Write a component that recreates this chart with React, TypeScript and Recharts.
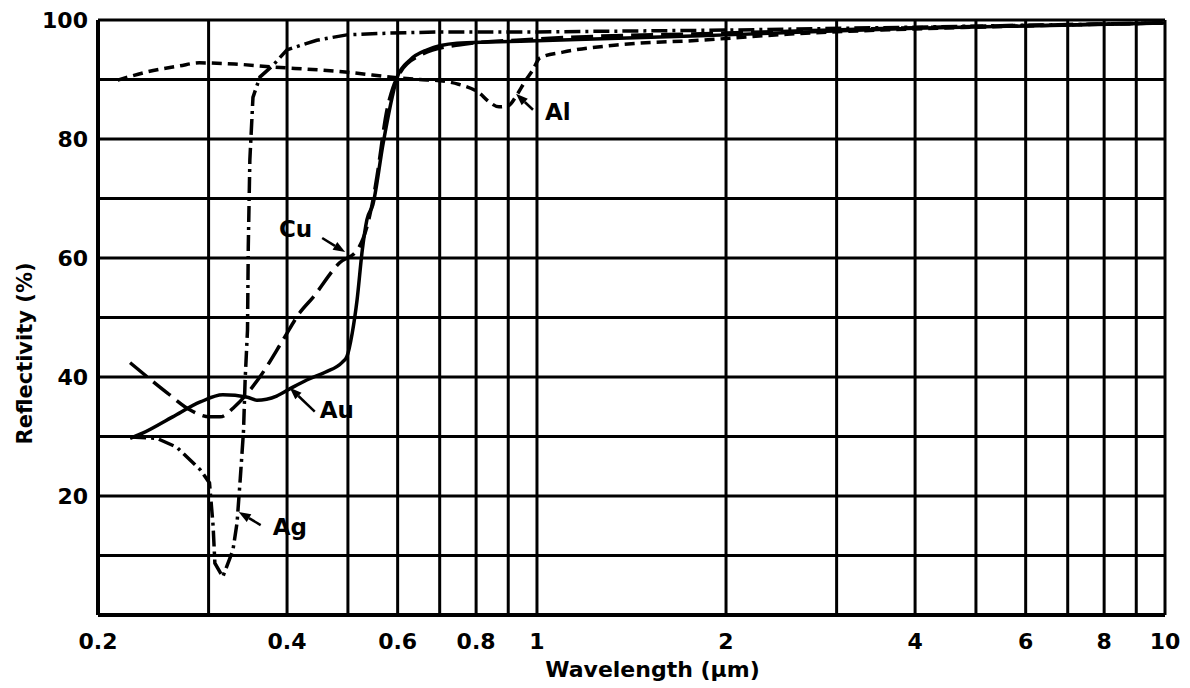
import React from "react";
import {
  LineChart,
  Line,
  XAxis,
  YAxis,
  CartesianGrid,
  Label,
  ReferenceDot,
} from "recharts";

// wavelength in um, reflectivity in %
const alWavelength = [0.215, 0.24, 0.27, 0.29, 0.33, 0.38, 0.45, 0.5, 0.6, 0.65, 0.7, 0.75, 0.81, 0.84, 0.87, 0.9, 0.93, 0.96, 0.985, 1.01, 1.1, 1.34, 1.82, 2.5, 4, 6, 10];
const alReflectivity = [89.9, 91.3, 92.3, 92.8, 92.6, 92.1, 91.6, 91.2, 90.3, 90.0, 89.8, 89.2, 87.7, 86.2, 85.4, 85.6, 87.5, 89.9, 91.6, 93.6, 94.6, 95.8, 96.6, 97.6, 98.5, 99.0, 99.5];

const agWavelength = [0.225, 0.248, 0.267, 0.291, 0.301, 0.305, 0.307, 0.316, 0.328, 0.333, 0.337, 0.341, 0.343, 0.346, 0.347, 0.349, 0.353, 0.362, 0.38, 0.4, 0.446, 0.498, 0.583, 0.7, 1, 2, 4, 10];
const agReflectivity = [29.9, 29.7, 28.2, 24.4, 22.2, 15, 8.7, 6.4, 10.9, 15.5, 23, 31, 39.5, 47.9, 62, 76.5, 87, 90.4, 92.4, 95, 96.6, 97.5, 97.8, 98, 98, 98.3, 98.8, 99.5];

const auWavelength = [0.225, 0.236, 0.263, 0.291, 0.316, 0.346, 0.358, 0.385, 0.404, 0.43, 0.46, 0.49, 0.498, 0.508, 0.517, 0.527, 0.536, 0.548, 0.569, 0.588, 0.599, 0.628, 0.669, 0.746, 0.842, 1, 2, 4, 10];
const auReflectivity = [29.7, 30.6, 33.3, 35.8, 37, 36.6, 36.1, 36.8, 38, 39.5, 40.8, 42.5, 43.4, 47.4, 52.9, 61.3, 66.4, 69, 79.3, 87, 90.4, 93.3, 95, 96.1, 96.3, 96.5, 97.5, 98.6, 99.5];

const cuWavelength = [0.225, 0.258, 0.28, 0.301, 0.313, 0.33, 0.346, 0.362, 0.394, 0.419, 0.44, 0.485, 0.517, 0.536, 0.548, 0.556, 0.577, 0.59, 0.605, 0.65, 0.75, 1, 2, 4, 10];
const cuReflectivity = [42.4, 37.3, 34.5, 33.3, 33.3, 35, 37.3, 40, 46.2, 50.8, 53.4, 59.2, 61.3, 65.2, 69.7, 73.6, 84.9, 88.7, 91.1, 94, 95.8, 96.8, 97.8, 98.7, 99.5];

const xTicks = [0.2, 0.3, 0.4, 0.5, 0.6, 0.7, 0.8, 0.9, 1, 2, 3, 4, 5, 6, 7, 8, 9, 10];
const xTickLabels = [0.2, 0.4, 0.6, 0.8, 1, 2, 4, 6, 8, 10];
const yTicks = [0, 10, 20, 30, 40, 50, 60, 70, 80, 90, 100];
const yTickLabels = [20, 40, 60, 80, 100];

// label name, point on curve it points to
const labelNames = ["Al", "Cu", "Au", "Ag"];
const labelWavelength = [0.926, 0.495, 0.404, 0.335];
const labelReflectivity = [87.6, 61.0, 38.2, 17.3];

const toPoints = (xs: number[], ys: number[]) =>
  xs.map((x, i) => ({ x, y: ys[i] }));

const FONT = "'DejaVu Sans', sans-serif";

// arrow offsets (px) from the tip: line end, text anchor
const labelLayout: Record<string, any> = {
  Al: { lx: 17, ly: 16, tx: 29, ty: 26, anchor: "start" },
  Cu: { lx: -23, ly: -14, tx: -33, ty: -15, anchor: "end" },
  Au: { lx: 25, ly: 24, tx: 30, ty: 30, anchor: "start" },
  Ag: { lx: 22, ly: 13, tx: 34, ty: 23, anchor: "start" },
};

const Annotation = (props: any) => {
  const { cx, cy, name } = props;
  const l = labelLayout[name];
  const ex = cx + l.lx;
  const ey = cy + l.ly;
  const len = Math.hypot(l.lx, l.ly);
  const ux = -l.lx / len;
  const uy = -l.ly / len;
  const hl = 12;
  const hw = 4.5;
  const bx = cx - ux * hl;
  const by = cy - uy * hl;
  const head = `${cx},${cy} ${bx - uy * hw},${by + ux * hw} ${bx + uy * hw},${by - ux * hw}`;
  return (
    <g>
      <line x1={ex} y1={ey} x2={bx} y2={by} stroke="#000" strokeWidth={2.5} />
      <polygon points={head} fill="#000" />
      <text
        x={cx + l.tx}
        y={cy + l.ty}
        textAnchor={l.anchor}
        fontFamily={FONT}
        fontWeight="bold"
        fontSize={23}
        fill="#000"
      >
        {name}
      </text>
    </g>
  );
};

export default function App() {
  const tickStyle = {
    fontSize: 22,
    fontWeight: "bold",
    fontFamily: FONT,
    fill: "#000",
  };
  return (
    <div style={{ position: "absolute", left: 0, top: 0, background: "#fff" }}>
      <LineChart
        width={1190}
        height={688}
        margin={{ top: 20, right: 25, left: 0, bottom: 0 }}
      >
        <CartesianGrid stroke="#000" strokeWidth={3} />
        <XAxis
          dataKey="x"
          type="number"
          scale="log"
          domain={[0.2, 10]}
          allowDataOverflow
          ticks={xTicks}
          tickFormatter={(v: number) => (xTickLabels.includes(v) ? String(v) : "")}
          tick={tickStyle}
          tickLine={false}
          tickSize={0}
          tickMargin={18}
          axisLine={{ stroke: "#000", strokeWidth: 4 }}
          height={73}
          label={
            <Label
              content={({ viewBox }: any) => (
                <text
                  x={viewBox.x + viewBox.width / 2 + 21}
                  y={viewBox.y + 62}
                  textAnchor="middle"
                  fontFamily={FONT}
                  fontWeight="bold"
                  fontSize={22}
                  fill="#000"
                >
                  Wavelength (μm)
                </text>
              )}
            />
          }
        />
        <YAxis
          type="number"
          domain={[0, 100]}
          ticks={yTicks}
          tickFormatter={(v: number) => (yTickLabels.includes(v) ? String(v) : "")}
          tick={tickStyle}
          tickLine={false}
          tickSize={0}
          tickMargin={10}
          axisLine={{ stroke: "#000", strokeWidth: 4 }}
          width={98}
          label={
            <Label
              content={({ viewBox }: any) => {
                const x = 25;
                const y = viewBox.y + viewBox.height / 2 + 36;
                return (
                  <text
                    x={x}
                    y={y}
                    transform={`rotate(-90, ${x}, ${y})`}
                    textAnchor="middle"
                    dominantBaseline="central"
                    fontFamily={FONT}
                    fontWeight="bold"
                    fontSize={21}
                    fill="#000"
                  >
                    Reflectivity (%)
                  </text>
                );
              }}
            />
          }
        />
        <Line
          data={toPoints(alWavelength, alReflectivity)}
          dataKey="y"
          type="monotone"
          stroke="#000"
          strokeWidth={3.5}
          strokeDasharray="10 6"
          dot={false}
          isAnimationActive={false}
        />
        <Line
          data={toPoints(agWavelength, agReflectivity)}
          dataKey="y"
          type="linear"
          stroke="#000"
          strokeWidth={3.5}
          strokeDasharray="16 5 3 5"
          dot={false}
          isAnimationActive={false}
        />
        <Line
          data={toPoints(cuWavelength, cuReflectivity)}
          dataKey="y"
          type="monotone"
          stroke="#000"
          strokeWidth={3.5}
          strokeDasharray="22 8"
          dot={false}
          isAnimationActive={false}
        />
        <Line
          data={toPoints(auWavelength, auReflectivity)}
          dataKey="y"
          type="monotone"
          stroke="#000"
          strokeWidth={3.5}
          dot={false}
          isAnimationActive={false}
        />
        {labelNames.map((name, i) => (
          <ReferenceDot
            key={name}
            x={labelWavelength[i]}
            y={labelReflectivity[i]}
            r={0}
            shape={(p: any) => <Annotation {...p} name={name} />}
          />
        ))}
      </LineChart>
    </div>
  );
}
